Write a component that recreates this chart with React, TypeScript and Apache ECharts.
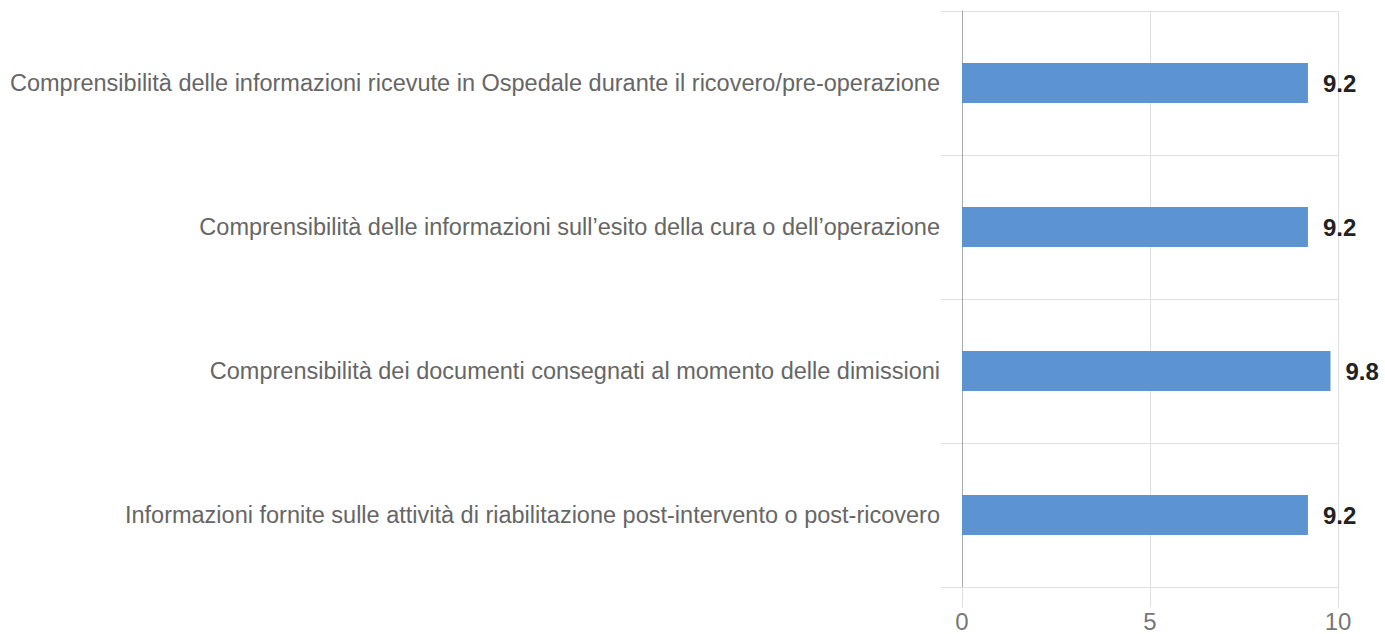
import React, { useEffect, useRef } from "react";
import * as echarts from "echarts";

const categories = [
  "Comprensibilità delle informazioni ricevute in Ospedale durante il ricovero/pre-operazione",
  "Comprensibilità delle informazioni sull’esito della cura o dell’operazione",
  "Comprensibilità dei documenti consegnati al momento delle dimissioni",
  "Informazioni fornite sulle attività di riabilitazione post-intervento o post-ricovero",
];
const values = [9.2, 9.2, 9.8, 9.2];
const axisMin = 0;
const axisMax = 10;
const axisStep = 5;

export default function App() {
  const ref = useRef<HTMLDivElement>(null);
  useEffect(() => {
    document.body.style.margin = "0";
    const chart = echarts.init(ref.current!, null, { renderer: "svg" });
    chart.setOption({
      animation: false,
      textStyle: { fontFamily: "'Liberation Sans', Arial, sans-serif" },
      grid: { left: 962, right: 47, top: 11, bottom: 47, containLabel: false },
      xAxis: {
        type: "value",
        min: axisMin,
        max: axisMax,
        interval: axisStep,
        axisLine: { show: false },
        axisTick: { show: true, length: 20, lineStyle: { color: "#e0e0e0" } },
        splitLine: { show: true, lineStyle: { color: "#e0e0e0" } },
        axisLabel: { color: "#777", fontSize: 24, margin: 22 },
      },
      yAxis: {
        type: "category",
        inverse: true,
        data: categories,
        axisLine: { show: true, lineStyle: { color: "#aaa", width: 1 } },
        axisTick: { show: true, length: 21, lineStyle: { color: "#e0e0e0" } },
        splitLine: { show: true, lineStyle: { color: "#e0e0e0" } },
        axisLabel: { color: "#666", fontSize: 23.5, margin: 22 },
      },
      series: [
        {
          type: "bar",
          data: values,
          barWidth: 40,
          itemStyle: { color: "#5b93d3" },
          label: {
            show: true,
            position: "right",
            distance: 15,
            color: "#222",
            fontWeight: "bold",
            fontSize: 24,
            formatter: (p: any) => p.value.toFixed(1),
          },
        },
      ],
    });
    return () => chart.dispose();
  }, []);
  return <div ref={ref} style={{ width: 1385, height: 634 }} />;
}
